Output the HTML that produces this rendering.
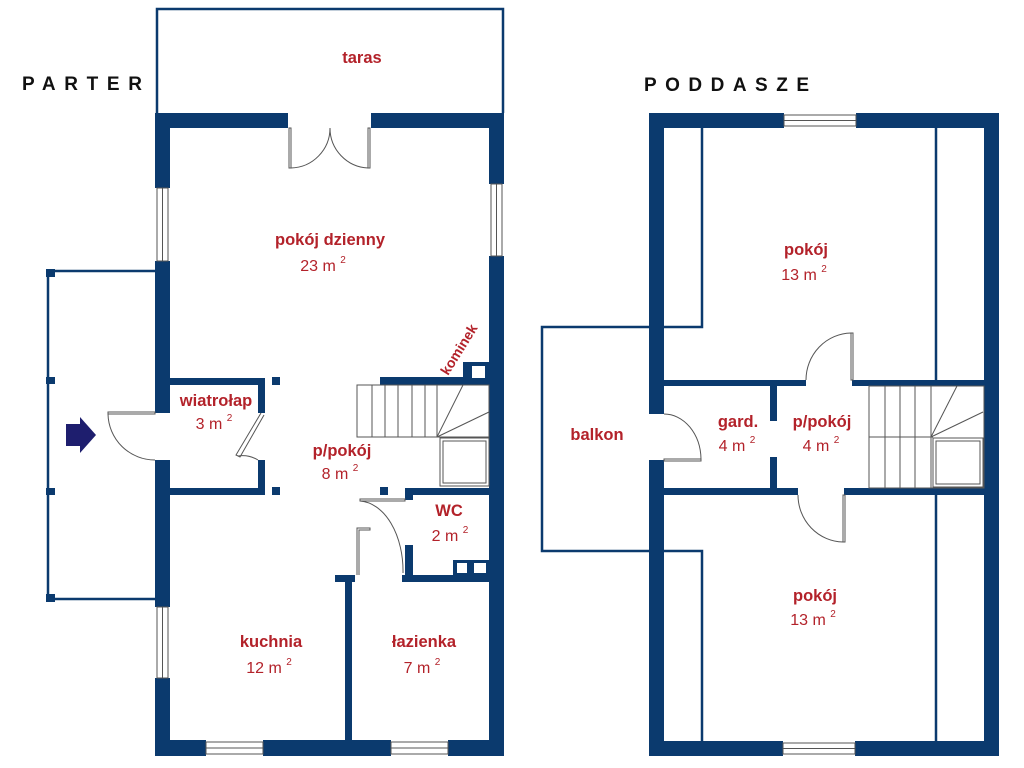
<!DOCTYPE html>
<html><head><meta charset="utf-8"><style>
html,body{margin:0;padding:0;background:#fff;}
svg{display:block;}
.b{font-family:"Liberation Sans",sans-serif;font-weight:bold;font-size:16.5px;fill:#b3222a;text-anchor:middle;}
.n{font-family:"Liberation Sans",sans-serif;font-size:16px;fill:#b3222a;text-anchor:middle;}
.s{font-size:10px;}
.t{font-family:"Liberation Sans",sans-serif;font-weight:bold;font-size:19px;fill:#111;}
</style></head><body>
<svg width="1024" height="768" viewBox="0 0 1024 768" xmlns="http://www.w3.org/2000/svg">
<g fill="#0b3a6e">
<!-- PARTER walls -->
<rect x="155" y="113" width="133" height="15"/>
<rect x="371" y="113" width="133" height="15"/>
<rect x="155" y="113" width="15" height="75"/>
<rect x="155" y="261" width="15" height="152"/>
<rect x="155" y="460" width="15" height="147"/>
<rect x="155" y="678" width="15" height="78"/>
<rect x="489" y="113" width="15" height="71"/>
<rect x="489" y="256" width="15" height="500"/>
<rect x="155" y="740" width="51" height="16"/>
<rect x="263" y="740" width="128" height="16"/>
<rect x="448" y="740" width="56" height="16"/>
<!-- wiatrolap -->
<rect x="170" y="378" width="95" height="7"/>
<rect x="258" y="378" width="7" height="35"/>
<rect x="258" y="460" width="7" height="35"/>
<rect x="170" y="488" width="95" height="7"/>
<rect x="272" y="377" width="8" height="8"/>
<rect x="272" y="487" width="8" height="8"/>
<!-- stairs wall & kominek -->
<rect x="380" y="377" width="109" height="8"/>
<rect x="463" y="362" width="26" height="23"/>
<!-- WC -->
<rect x="405" y="488" width="84" height="7"/>
<rect x="380" y="487" width="8" height="8"/>
<rect x="405" y="488" width="8" height="12"/>
<rect x="405" y="545" width="8" height="37"/>
<rect x="402" y="575" width="87" height="7"/>
<rect x="453" y="560" width="36" height="15"/>
<!-- kitchen/bath wall -->
<rect x="335" y="575" width="20" height="7"/>
<rect x="345" y="575" width="7" height="165"/>
<!-- porch corner blocks -->
<rect x="46" y="269" width="9" height="8"/>
<rect x="46" y="377" width="9" height="7"/>
<rect x="46" y="488" width="9" height="7"/>
<rect x="46" y="594" width="9" height="8"/>

<!-- PODDASZE walls -->
<rect x="649" y="113" width="135" height="15"/>
<rect x="856" y="113" width="143" height="15"/>
<rect x="649" y="113" width="15" height="301"/>
<rect x="649" y="460" width="15" height="296"/>
<rect x="984" y="113" width="15" height="643"/>
<rect x="649" y="741" width="134" height="15"/>
<rect x="855" y="741" width="144" height="15"/>
<rect x="664" y="380" width="142" height="6"/>
<rect x="852" y="380" width="132" height="6"/>
<rect x="664" y="488" width="134" height="7"/>
<rect x="844" y="488" width="140" height="7"/>
<rect x="770" y="386" width="7" height="35"/>
<rect x="770" y="457" width="7" height="31"/>
</g>
<g fill="#fff">
<rect x="472" y="366" width="13" height="12"/>
<rect x="457" y="563" width="10" height="10"/>
<rect x="474" y="563" width="12" height="10"/>
</g>
<g fill="none" stroke="#0b3a6e" stroke-width="2.5">
<!-- taras -->
<path d="M157,113 V9 H503 V113"/>
<!-- porch -->
<path d="M155,271 H48 V599 H155"/>
<!-- balkon -->
<path d="M649,327 H542 V551 H649"/>
<!-- knee walls -->
<path d="M664,327 H702 V128"/>
<path d="M664,551 H702 V741"/>
<path d="M936,128 V380"/>
<path d="M936,495 V741"/>
</g>
<g fill="none" stroke="#555" stroke-width="1">
<!-- windows -->
<rect x="157" y="188" width="11" height="73"/><line x1="162.5" y1="188" x2="162.5" y2="261"/>
<rect x="491" y="184" width="11" height="72"/><line x1="496.5" y1="184" x2="496.5" y2="256"/>
<rect x="157" y="607" width="11" height="71"/><line x1="162.5" y1="607" x2="162.5" y2="678"/>
<rect x="206" y="742" width="57" height="12"/><line x1="206" y1="748" x2="263" y2="748"/>
<rect x="391" y="742" width="57" height="12"/><line x1="391" y1="748" x2="448" y2="748"/>
<rect x="784" y="115" width="72" height="11"/><line x1="784" y1="120.5" x2="856" y2="120.5"/>
<rect x="783" y="743" width="72" height="11"/><line x1="783" y1="748.5" x2="855" y2="748.5"/>
<!-- taras doors -->
<rect x="289" y="128" width="2" height="40"/><rect x="368" y="128" width="2" height="40"/>
<path d="M291,168 A40,40 0 0 0 330,128"/>
<path d="M368,168 A40,40 0 0 1 330,128"/>
<!-- entry door -->
<rect x="108" y="412" width="47" height="2"/>
<path d="M108,414 A47,47 0 0 0 155,460"/>
<!-- wiatrolap door -->
<path d="M261,413 L236,455 L240,457 L264,415"/>
<path d="M238,456 A30,30 0 0 1 258,460"/>
<!-- WC door -->
<path d="M360,499 H405 V501 H360 Z"/>
<path d="M360,501 A45,70 0 0 1 403,573"/>
<path d="M357,575 V528 H370 V530 H359 V575"/>
<!-- stairs parter -->
<rect x="357" y="385" width="132" height="52"/>
<line x1="372" y1="385" x2="372" y2="437"/><line x1="385" y1="385" x2="385" y2="437"/>
<line x1="398" y1="385" x2="398" y2="437"/><line x1="412" y1="385" x2="412" y2="437"/>
<line x1="425" y1="385" x2="425" y2="437"/><line x1="437" y1="385" x2="437" y2="437"/>
<line x1="437" y1="437" x2="463" y2="385"/><line x1="437" y1="437" x2="489" y2="412"/>
<rect x="440" y="438" width="49" height="48"/><rect x="443" y="441" width="43" height="42"/>
<!-- poddasze doors -->
<rect x="851" y="333" width="2" height="47"/>
<path d="M806,380 A46,47 0 0 1 851,333"/>
<rect x="843" y="495" width="2" height="47"/>
<path d="M798,495 A46,47 0 0 0 843,542"/>
<rect x="664" y="459" width="37" height="2"/>
<path d="M664,414 A37,46 0 0 1 701,459"/>
<!-- stairs poddasze -->
<rect x="869" y="386" width="115" height="102"/>
<line x1="869" y1="437" x2="933" y2="437"/>
<line x1="885" y1="386" x2="885" y2="488"/><line x1="900" y1="386" x2="900" y2="488"/>
<line x1="915" y1="386" x2="915" y2="488"/><line x1="931" y1="386" x2="931" y2="488"/>
<line x1="931" y1="437" x2="957" y2="386"/><line x1="931" y1="437" x2="983" y2="412"/>
<rect x="933" y="438" width="50" height="49"/><rect x="936" y="441" width="44" height="43"/>
</g>
<!-- arrow -->
<path d="M66,424 H80 V417 L96,435 L80,453 V446 H66 Z" fill="#1e1e6e"/>
<!-- titles -->
<text class="t" x="22" y="90" textLength="120" lengthAdjust="spacing">PARTER</text>
<text class="t" x="644" y="91" textLength="165" lengthAdjust="spacing">PODDASZE</text>
<!-- labels parter -->
<text class="b" x="362" y="63">taras</text>
<text class="b" x="330" y="245">pokój dzienny</text>
<text class="n" x="323" y="271">23 m <tspan class="s" dy="-8">2</tspan></text>
<text class="b" x="216" y="406">wiatrołap</text>
<text class="n" x="214" y="429">3 m <tspan class="s" dy="-8">2</tspan></text>
<text class="b" x="342" y="456">p/pokój</text>
<text class="n" x="340" y="479">8 m <tspan class="s" dy="-8">2</tspan></text>
<text class="b" x="449" y="516">WC</text>
<text class="n" x="450" y="541">2 m <tspan class="s" dy="-8">2</tspan></text>
<text class="b" x="271" y="647">kuchnia</text>
<text class="n" x="269" y="673">12 m <tspan class="s" dy="-8">2</tspan></text>
<text class="b" x="424" y="647">łazienka</text>
<text class="n" x="422" y="673">7 m <tspan class="s" dy="-8">2</tspan></text>
<text class="b" x="0" y="0" style="font-size:14px" transform="translate(463,352) rotate(-58)" text-anchor="middle">kominek</text>
<!-- labels poddasze -->
<text class="b" x="806" y="255">pokój</text>
<text class="n" x="804" y="280">13 m <tspan class="s" dy="-8">2</tspan></text>
<text class="b" x="597" y="440">balkon</text>
<text class="b" x="738" y="427">gard.</text>
<text class="n" x="737" y="451">4 m <tspan class="s" dy="-8">2</tspan></text>
<text class="b" x="822" y="427">p/pokój</text>
<text class="n" x="821" y="451">4 m <tspan class="s" dy="-8">2</tspan></text>
<text class="b" x="815" y="601">pokój</text>
<text class="n" x="813" y="625">13 m <tspan class="s" dy="-8">2</tspan></text>
</svg>
</body></html>
